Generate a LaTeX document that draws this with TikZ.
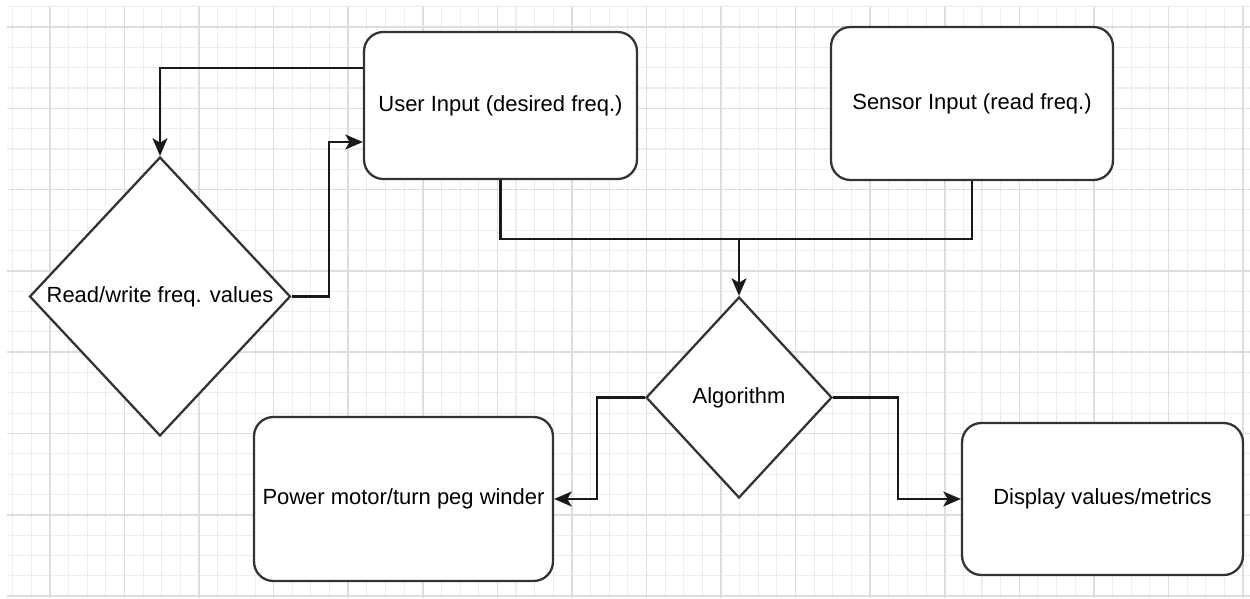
\documentclass[tikz,border=0pt]{standalone}
\usepackage{fontspec}
\setmainfont{Liberation Sans}
\usetikzlibrary{shapes.geometric,arrows.meta,positioning,calc}
\definecolor{linegray}{rgb}{0.2,0.2,0.2}
\definecolor{gridminor}{rgb}{0.93,0.93,0.93}
\definecolor{gridmajor}{rgb}{0.87,0.87,0.87}

\tikzset{
  block/.style={draw=linegray, line width=1.3pt, rounded corners=11pt, fill=white,
    inner sep=0pt, align=center, font=\fontsize{12.5}{15}\selectfont},
  decision/.style={draw=linegray, line width=1.3pt, diamond, fill=white,
    inner sep=0pt, align=center, font=\fontsize{12.5}{15}\selectfont},
  link/.style={draw=black!90, line width=1.3pt},
  flow/.style={link, -{Stealth[length=10pt,width=8.5pt,inset=2.5pt]}}
}

\begin{document}
\begin{tikzpicture}[x=0.02cm, y=-0.02cm]
  \useasboundingbox (0,0) rectangle (1250,598);

  % --- Grid paper ---
  \foreach \i in {-2,...,64} {
    \draw[gridminor, line width=0.6pt] ({50+18.64*\i},7) -- ({50+18.64*\i},598);
  }
  \foreach \j in {-1,...,28} {
    \draw[gridminor, line width=0.6pt] (7,{27+20.33*\j}) -- (1250,{27+20.33*\j});
  }
  \foreach \i in {0,...,16} {
    \draw[gridmajor, line width=0.9pt] ({50+74.56*\i},7) -- ({50+74.56*\i},598);
  }
  \foreach \j in {0,...,7} {
    \draw[gridmajor, line width=0.9pt] (7,{27+81.3*\j}) -- (1250,{27+81.3*\j});
  }

  % --- Inputs ---
  \node[block, minimum width=5.46cm, minimum height=2.94cm] (user) at (500.5,105.5)
    {User Input (desired freq.)};
  \node[block, minimum width=5.64cm, minimum height=3.06cm] (sensor) at (972,103.5)
    {Sensor Input (read freq.)};

  % --- Decisions ---
  \node[decision, minimum width=5.22cm, minimum height=5.58cm] (rw) at (160,296.5)
    {Read/write freq. values};
  \node[decision, minimum width=3.72cm, minimum height=4.02cm] (algo) at (739,397.5)
    {Algorithm};

  % --- Outputs ---
  \node[block, minimum width=5.98cm, minimum height=3.28cm] (motor) at (403.5,499)
    {Power motor/turn peg winder};
  \node[block, minimum width=5.62cm, minimum height=3.04cm] (display) at (1102.5,499)
    {Display values/metrics};

  % --- Connectors ---
  \draw[flow] ([yshift=0.75cm]user.west) -| (rw.north);
  \draw[flow] (rw.east) -- ++(0.75cm,0) |- ([yshift=-0.73cm]user.west);

  \coordinate[below=1.18cm of user.south] (merge);
  \draw[link] (user.south) -- (merge) -| (sensor.south);
  \draw[flow] (merge -| algo.north) -- (algo.north);

  \draw[flow] (algo.west) -- ++(-0.96cm,0) |- (motor.east);
  \draw[flow] (algo.east) -- ++(1.3cm,0) |- (display.west);
\end{tikzpicture}
\end{document}
